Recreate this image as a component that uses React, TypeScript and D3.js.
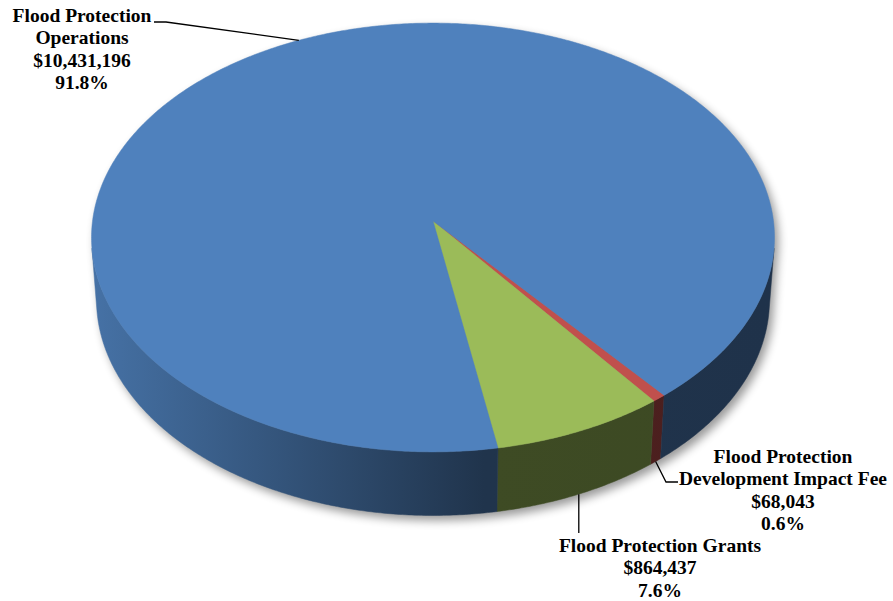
import React from "react";
import * as d3 from "d3";

const categories = ["Flood Protection Development Impact Fee", "Flood Protection Grants", "Flood Protection Operations"];
const values = [68043, 864437, 10431196];
const amountLabels = ["$68,043", "$864,437", "$10,431,196"];
const percentLabels = ["0.6%", "7.6%", "91.8%"];
const colors = ["#c0504d", "#9bbb59", "#4f81bd"];

// label layout: lines, centre x, first baseline
const labelLines = [
  ["Flood Protection", "Development Impact Fee", "$68,043", "0.6%"],
  ["Flood Protection Grants", "$864,437", "7.6%"],
  ["Flood Protection", "Operations", "$10,431,196", "91.8%"],
];
const labelPos = [
  { x: 783, y: 463 },
  { x: 660, y: 552 },
  { x: 82, y: 22 },
];

const W = 893;
const H = 601;
const X0 = 433;
const Y0 = 221;
const F = 3453;
const DIST = 1;
const R = 0.0986;
const SINP = 0.626;
const COSP = Math.sqrt(1 - SINP * SINP);
const DEPTH = 0.0234;
const START_DEG = 140.3;

const rad = (d: number) => (d * Math.PI) / 180;

function proj(a: number, dy: number): [number, number] {
  const x3 = R * Math.sin(a);
  const z3 = -R * Math.cos(a);
  const y3 = -dy;
  const up = y3 * COSP - z3 * SINP;
  const depth = DIST - y3 * SINP - z3 * COSP;
  return [X0 + (F * x3) / depth, Y0 - (F * up) / depth];
}

function arcPts(a1: number, a2: number, dy: number): [number, number][] {
  const n = Math.max(2, Math.ceil(Math.abs(a2 - a1) / rad(0.5)));
  const pts: [number, number][] = [];
  for (let i = 0; i <= n; i++) pts.push(proj(a1 + ((a2 - a1) * i) / n, dy));
  return pts;
}

const visLimit = Math.acos(-R / (DIST * COSP)); // ~97.3deg
const VIS_A = visLimit;
const VIS_B = 2 * Math.PI - visLimit;

function wallRanges(a1: number, a2: number): [number, number][] {
  const out: [number, number][] = [];
  for (const off of [-2 * Math.PI, 0, 2 * Math.PI]) {
    const lo = Math.max(a1, VIS_A + off);
    const hi = Math.min(a2, VIS_B + off);
    if (hi > lo) out.push([lo, hi]);
  }
  return out;
}

const line = d3.line();

function shade(c: string, k: number) {
  const r = d3.rgb(c);
  return d3.rgb(r.r * k, r.g * k, r.b * k).formatHex();
}

export default function App() {
  const pie = d3
    .pie<number>()
    .sort(null)
    .startAngle(rad(START_DEG))
    .endAngle(rad(START_DEG) + 2 * Math.PI);
  const arcs = pie(values);

  const walls: { d: string; i: number }[] = [];
  const tops: { d: string; i: number }[] = [];
  arcs.forEach((arc, i) => {
    wallRanges(arc.startAngle, arc.endAngle).forEach(([lo, hi]) => {
      const pts = [...arcPts(lo, hi, 0), ...arcPts(hi, lo, DEPTH)];
      walls.push({ d: line(pts)! + "Z", i });
    });
    const tp = [[X0, Y0] as [number, number], ...arcPts(arc.startAngle, arc.endAngle, 0)];
    tops.push({ d: line(tp)! + "Z", i });
  });

  const mid = arcs.map((a) => (a.startAngle + a.endAngle) / 2);
  const feeStart = proj(mid[0], DEPTH);
  const grantStart = proj(mid[1], DEPTH);
  const opsStart = proj(mid[2], 0);

  const leaders = [
    [feeStart, [666, 482], [678, 482]],
    [grantStart, [grantStart[0], 533]],
    [opsStart, [166, 22], [154, 22]],
  ] as [number, number][][];

  const gx1 = proj(VIS_B, 0)[0] - 2;
  const gx2 = proj(VIS_A, 0)[0] + 2;
  const darkX = proj(rad(172), 0)[0];
  const darkOff = (darkX - gx1) / (gx2 - gx1);

  return (
    <svg width={W} height={H} style={{ position: "absolute", left: 0, top: 0, background: "#fff" }}>
      <defs>
        <filter id="shadow" x="-20%" y="-20%" width="140%" height="140%">
          <feGaussianBlur stdDeviation="5" />
        </filter>
        {colors.map((c, i) => (
          <linearGradient key={i} id={`wall${i}`} gradientUnits="userSpaceOnUse" x1={gx1} x2={gx2} y1={0} y2={0}>
            <stop offset={0} stopColor={shade(c, 0.88)} />
            <stop offset={darkOff} stopColor={shade(c, 0.4)} />
            <stop offset={1} stopColor={shade(c, 0.39)} />
          </linearGradient>
        ))}
      </defs>
      <g filter="url(#shadow)" transform="translate(4,5)" opacity={0.4}>
        {walls.map((w, k) => (
          <path key={k} d={w.d} fill="#000" />
        ))}
        {tops.map((t, k) => (
          <path key={k} d={t.d} fill="#000" />
        ))}
      </g>
      {walls.map((w, k) => (
        <path key={k} d={w.d} fill={`url(#wall${w.i})`} stroke={`url(#wall${w.i})`} strokeWidth={0.5} />
      ))}
      {tops.map((t, k) => (
        <path key={k} d={t.d} fill={colors[t.i]} stroke={colors[t.i]} strokeWidth={0.5} />
      ))}
      {leaders.map((pts, k) => (
        <path key={k} d={line(pts)!} fill="none" stroke="#000" strokeWidth={1.3} />
      ))}
      {labelLines.map((lines, i) => (
        <text
          key={i}
          textAnchor="middle"
          fontFamily="'Liberation Serif', 'Times New Roman', serif"
          fontWeight="bold"
          fontSize={19.5}
          fill="#000"
        >
          {lines.map((l, j) => (
            <tspan key={j} x={labelPos[i].x} y={labelPos[i].y + j * 22.3}>
              {l}
            </tspan>
          ))}
        </text>
      ))}
      <title>{categories.join(", ")}</title>
    </svg>
  );
}
